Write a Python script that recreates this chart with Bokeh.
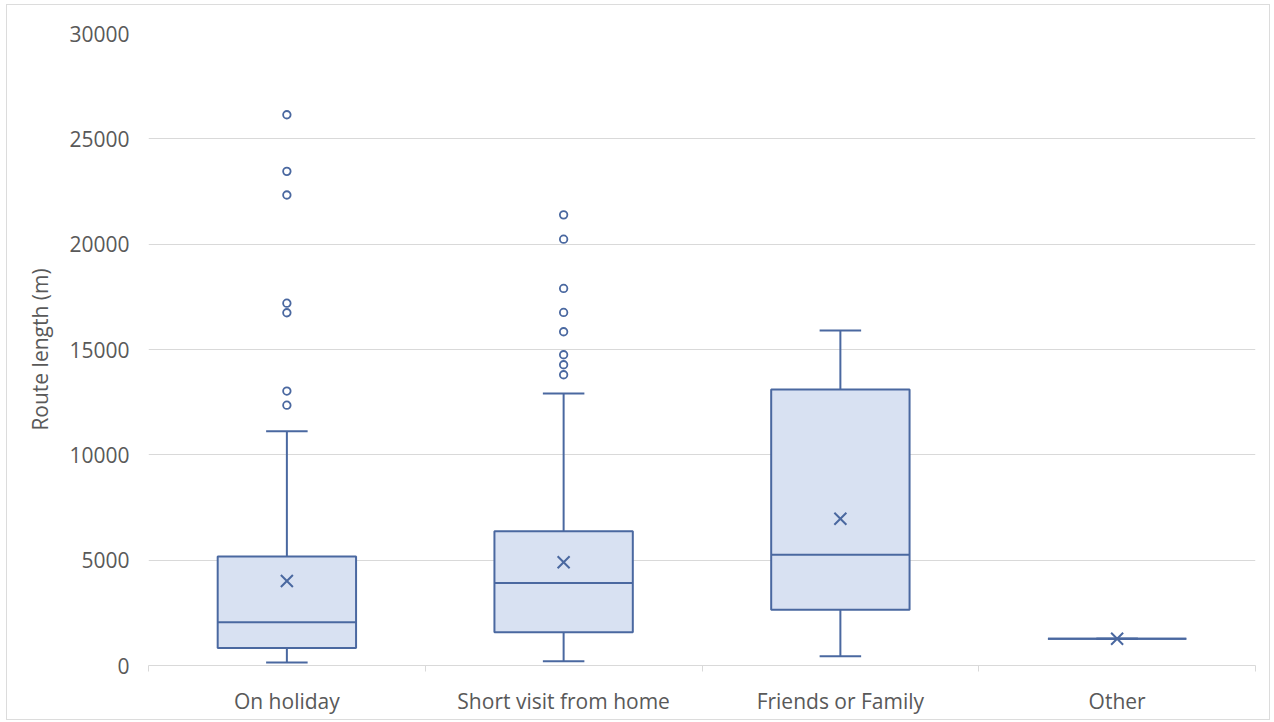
from bokeh.plotting import figure
from bokeh.models import ColumnDataSource, Range1d, FixedTicker, NumeralTickFormatter
from bokeh.embed import file_html
from bokeh.resources import INLINE

# ---- data ----
categories = ["On holiday", "Short visit from home", "Friends or Family", "Other"]
lower_whisker = [145, 206, 443, 1268]
q1 = [835, 1581, 2645, 1268]
median = [2050, 3921, 5258, 1268]
q3 = [5170, 6372, 13098, 1268]
upper_whisker = [11121, 12917, 15901, 1268]
mean = [4010, 4901, 6969, 1268]
outliers_holiday = [26143, 23457, 22333, 17199, 16745, 13026, 12355]
outliers_short_visit = [21391, 20237, 17897, 16759, 15842, 14751, 14277, 13802]
outliers_friends = []
outliers_other = []
y_ticks = [0, 5000, 10000, 15000, 20000, 25000, 30000]

# ---- styling ----
LINE = "#4A68A0"
FILL = "#D8E1F2"
GRID = "#D9D9D9"
TEXT = "#595959"
FONT = "Open Sans"
BOX_W = 0.5
CAP_W = 0.15

n = len(categories)
xs = [i + 0.5 for i in range(n)]

src = ColumnDataSource(dict(
    x=xs,
    lw=lower_whisker, q1=q1, med=median, q3=q3, uw=upper_whisker, mean=mean,
    bl=[x - BOX_W / 2 for x in xs], br=[x + BOX_W / 2 for x in xs],
    cl=[x - CAP_W / 2 for x in xs], cr=[x + CAP_W / 2 for x in xs],
))

out_x, out_y = [], []
for x, vals in zip(xs, [outliers_holiday, outliers_short_visit, outliers_friends, outliers_other]):
    for v in vals:
        out_x.append(x)
        out_y.append(v)
out_src = ColumnDataSource(dict(x=out_x, y=out_y))

p = figure(width=1264, height=716,
           x_range=Range1d(0, n), y_range=Range1d(y_ticks[0], y_ticks[-1]),
           output_backend="svg", toolbar_location=None,
           min_border_left=141, min_border_right=16, min_border_top=28, min_border_bottom=56)
p.margin = (4, 0, 0, 6)
p.styles = {"border": "1px solid #DCDCDC"}
p.outline_line_color = None
p.background_fill_color = "white"
p.border_fill_color = "white"

# whiskers
p.segment(x0="x", y0="q3", x1="x", y1="uw", source=src, line_color=LINE, line_width=2)
p.segment(x0="x", y0="q1", x1="x", y1="lw", source=src, line_color=LINE, line_width=2)
p.segment(x0="cl", y0="uw", x1="cr", y1="uw", source=src, line_color=LINE, line_width=2)
p.segment(x0="cl", y0="lw", x1="cr", y1="lw", source=src, line_color=LINE, line_width=2)
# boxes
p.vbar(x="x", width=BOX_W, bottom="q1", top="q3", source=src,
       fill_color=FILL, line_color=LINE, line_width=2)
# medians
p.segment(x0="bl", y0="med", x1="br", y1="med", source=src, line_color=LINE, line_width=2)
# means
p.scatter(x="x", y="mean", source=src, marker="x", size=17, line_color=LINE, line_width=2)
# outliers
p.scatter(x="x", y="y", source=out_src, marker="circle", size=7.5,
          line_color=LINE, fill_color="white", line_width=1.8)

# grid
p.xgrid.grid_line_color = None
p.ygrid.grid_line_color = GRID
p.ygrid.grid_line_width = 1

# x axis
xa = p.xaxis[0]
xa.ticker = FixedTicker(ticks=xs, minor_ticks=list(range(n + 1)))
xa.major_label_overrides = {x: c for x, c in zip(xs, categories)}
xa.axis_line_color = GRID
xa.major_tick_line_color = None
xa.major_tick_out = 0
xa.minor_tick_line_color = GRID
xa.minor_tick_in = 0
xa.minor_tick_out = 6
xa.major_label_standoff = 15
xa.major_label_text_font = FONT
xa.major_label_text_font_size = "21px"
xa.major_label_text_color = TEXT

# y axis
ya = p.yaxis[0]
ya.ticker = FixedTicker(ticks=y_ticks)
ya.formatter = NumeralTickFormatter(format="0")
ya.axis_line_color = None
ya.major_tick_line_color = None
ya.minor_tick_line_color = None
ya.major_tick_out = 0
ya.major_label_standoff = 19
ya.major_label_text_font = FONT
ya.major_label_text_font_size = "21px"
ya.major_label_text_color = TEXT
ya.axis_label = "Route length (m)"
ya.axis_label_text_font = FONT
ya.axis_label_text_font_size = "21px"
ya.axis_label_text_font_style = "normal"
ya.axis_label_text_color = TEXT
ya.axis_label_standoff = 12

open("out.html", "w").write(file_html(p, INLINE))
